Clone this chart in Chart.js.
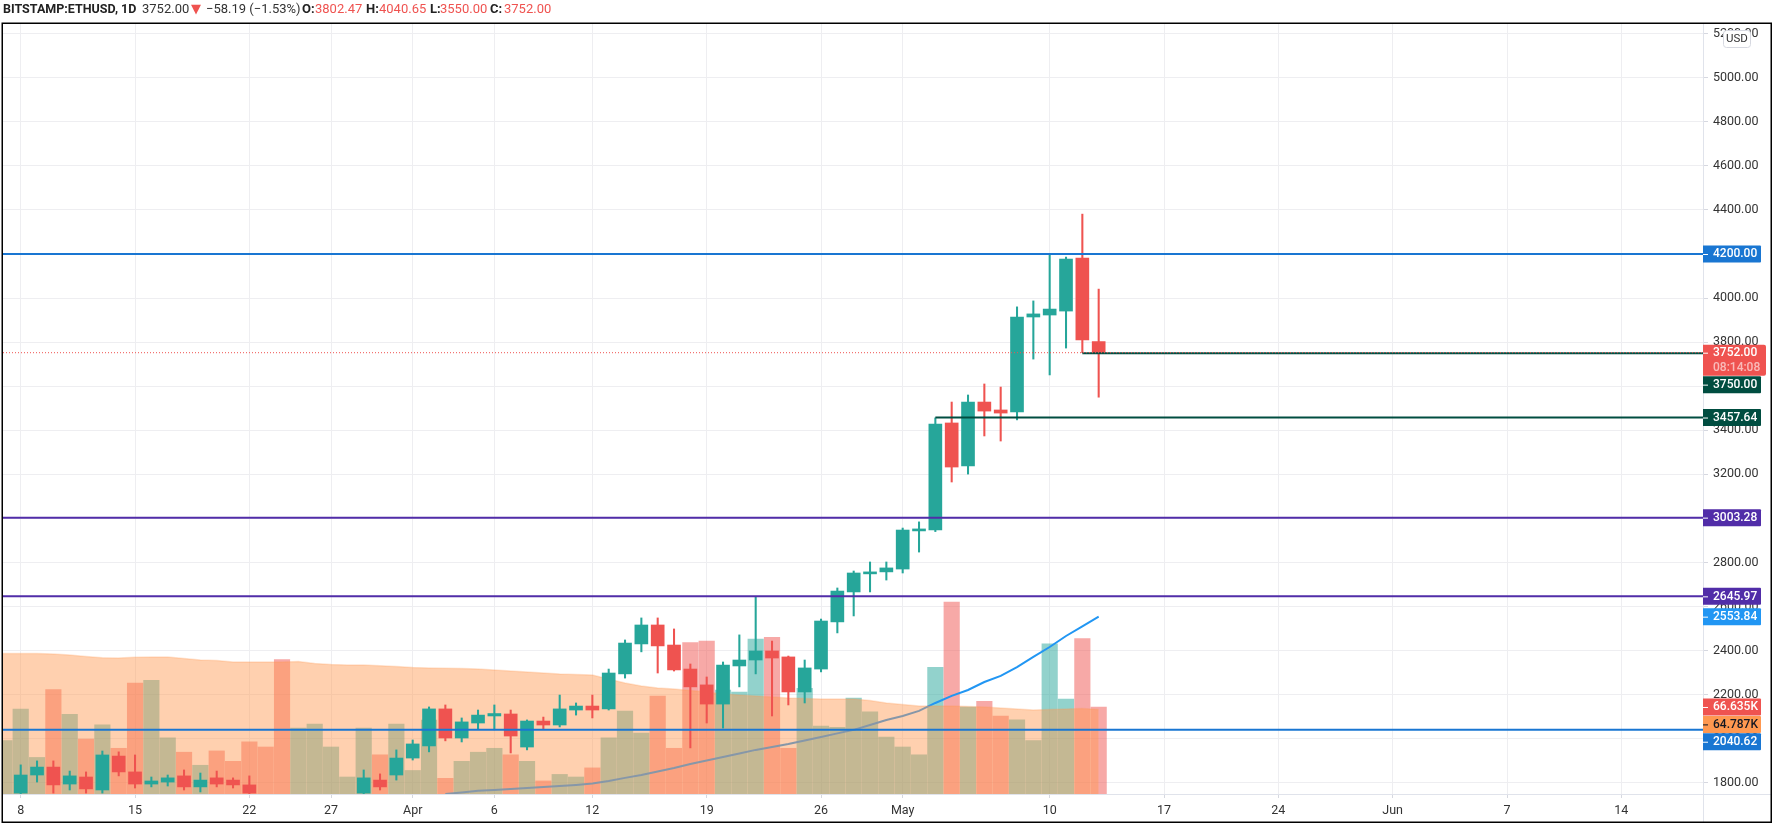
<!DOCTYPE html>
<html>
<head>
<meta charset="utf-8">
<title>BITSTAMP:ETHUSD, 1D</title>
<script src="https://cdn.jsdelivr.net/npm/chart.js@4/dist/chart.umd.min.js"></script>
<style>
    html, body { margin: 0; background: #fff; }
    #wrap { position: relative; width: 1776px; height: 833px; overflow: hidden; }
    #chart { position: absolute; left: 0; top: 0; }
    #head span { position: absolute; top: 0; font: 13px/18px Roboto, sans-serif; color: #333; white-space: nowrap; }
    #head .b { font-weight: 700; color: #222; }
    #head .t { font-size: 12.5px; }
    #head .r { color: #ef5350; }
</style>
</head>
<body>
<div id="wrap">
    <canvas id="chart" width="1776" height="833"></canvas>
    <div id="head">
        <span class="b t" style="left:3px">BITSTAMP:ETHUSD, 1D</span>
        <span style="left:142px">3752.00</span>
        <span class="r" style="left:191px;font-family:'DejaVu Sans'">&#9660;</span>
        <span style="left:206px">&minus;58.19 (&minus;1.53%)</span>
        <span class="b" style="left:302px">O:</span><span class="r" style="left:315px">3802.47</span>
        <span class="b" style="left:366px">H:</span><span class="r" style="left:379px">4040.65</span>
        <span class="b" style="left:430px">L:</span><span class="r" style="left:440px">3550.00</span>
        <span class="b" style="left:490px">C:</span><span class="r" style="left:504px">3752.00</span>
    </div>
</div>
<script>
// day = days since 8 Mar 2021; day, open, high, low, close, volume (K)
// null prices = candle sits below the visible part of the price scale
var rows = [
    [-1, null, null, null, null, 41],
    [0, 1753, 1881, 1750, 1835, 65],
    [1, 1835, 1899, 1803, 1871, 28],
    [2, 1871, 1899, 1753, 1790, 80],
    [3, 1794, 1853, 1767, 1831, 61],
    [4, 1826, 1849, 1753, 1772, 42],
    [5, 1767, 1944, 1753, 1926, 53],
    [6, 1921, 1940, 1831, 1849, 35],
    [7, 1849, 1926, 1776, 1794, 85],
    [8, 1794, 1826, 1781, 1808, 87],
    [9, 1803, 1835, 1785, 1822, 43],
    [10, 1831, 1858, 1767, 1781, 32],
    [11, 1781, 1844, 1758, 1812, 22],
    [12, 1822, 1853, 1781, 1794, 33],
    [13, 1812, 1822, 1776, 1790, 25],
    [14, 1790, 1831, 1750, 1753, 40],
    [15, null, null, null, null, 36],
    [16, null, null, null, null, 103],
    [17, null, null, null, null, 50.5],
    [18, null, null, null, null, 53.6],
    [19, null, null, null, null, 36],
    [20, null, null, null, null, 13],
    [21, 1753, 1858, 1750, 1822, 50.5],
    [22, 1812, 1840, 1767, 1781, 30],
    [23, 1835, 1949, 1812, 1912, 53.6],
    [24, 1912, 1994, 1903, 1976, 18],
    [25, 1967, 2144, 1940, 2135, 56.6],
    [26, 2135, 2153, 1990, 2003, 12],
    [27, 2003, 2094, 1985, 2076, 25],
    [28, 2071, 2130, 2044, 2107, 32],
    [29, 2103, 2153, 2040, 2114, 35],
    [30, 2112, 2130, 1935, 2012, 30],
    [31, 1962, 2085, 1949, 2080, 25],
    [32, 2080, 2098, 2044, 2062, 10],
    [33, 2062, 2198, 2053, 2135, 15],
    [34, 2130, 2162, 2107, 2148, 13],
    [35, 2148, 2198, 2094, 2130, 20],
    [36, 2135, 2316, 2130, 2298, 43],
    [37, 2294, 2448, 2275, 2434, 63.5],
    [38, 2430, 2548, 2394, 2516, 46.7],
    [39, 2516, 2548, 2298, 2421, 75],
    [40, 2425, 2498, 2307, 2312, 35],
    [41, 2316, 2339, 1958, 2235, 116],
    [42, 2244, 2280, 2071, 2157, 117],
    [43, 2157, 2348, 2048, 2334, 79.6],
    [44, 2330, 2471, 2235, 2357, 78],
    [45, 2357, 2646, 2294, 2398, 118.7],
    [46, 2398, 2443, 2103, 2366, 120],
    [47, 2371, 2375, 2153, 2212, 35],
    [48, 2212, 2357, 2162, 2321, 81],
    [49, 2316, 2543, 2303, 2534, 52],
    [50, 2530, 2684, 2480, 2670, 51],
    [51, 2666, 2761, 2557, 2752, 73.5],
    [52, 2748, 2802, 2666, 2757, 63],
    [53, 2757, 2802, 2720, 2775, 43.6],
    [54, 2770, 2956, 2752, 2947, 36],
    [55, 2943, 2984, 2847, 2952, 30],
    [56, 2947, 3456, 2940, 3428, 97],
    [57, 3433, 3528, 3165, 3233, 147],
    [58, 3238, 3560, 3201, 3528, 66.6],
    [59, 3528, 3610, 3374, 3487, 71],
    [60, 3492, 3596, 3351, 3478, 59.7],
    [61, 3483, 3960, 3447, 3914, 56.7],
    [62, 3914, 3987, 3723, 3928, 41],
    [63, 3923, 4200, 3651, 3950, 115],
    [64, 3941, 4186, 3773, 4177, 72.7],
    [65, 4182, 4381, 3752, 3810.19, 119],
    [66, 3802.47, 4040.65, 3550, 3752, 66.635]
];
var offChartDown = [15, 16]; // red volume although the candle is off scale

// volume moving average, one reading per day starting at day -2
var volMa = [107.6, 107.6, 107.6, 107.6, 107.2, 106.4, 105.3, 104.4, 104.1, 104.7, 104.9, 104.9, 103.8, 102.6, 102.2, 101.1,
    101.1, 101.1, 101.1, 101.5, 99.9, 99.2, 98.8, 98.8, 98.2, 97.6, 96.9, 96.5, 96.2, 96.1, 95.7, 95, 94.2, 93.4, 92.6, 91.9,
    91.5, 91.1, 88, 85, 82.7, 81.2, 80.4, 79.3, 78.1, 76.6, 75.8, 75, 74.3, 73.5, 73.1, 72.7, 72.7, 72.7, 71.6, 69.7, 68.5,
    67.4, 67.4, 67.4, 67, 66.6, 65.9, 65.1, 64.3, 64.7, 65.1, 65.5, 64.787];

// price moving average, starts at day 26
var priceMa = [1749, 1756, 1763, 1767, 1772, 1776, 1781, 1785, 1790, 1796, 1808, 1822, 1835, 1851, 1867, 1885, 1901, 1917,
    1933, 1949, 1962, 1976, 1992, 2008, 2024, 2040, 2062, 2085, 2103, 2126, 2162, 2194, 2221, 2257, 2285, 2325, 2371, 2416,
    2466, 2510, 2553.84];

var xMin = -1.084, xMax = 103;
var xLabels = {0: '8', 7: '15', 14: '22', 19: '27', 24: 'Apr', 29: '6', 35: '12', 42: '19', 49: '26', 54: 'May', 63: '10',
    70: '17', 77: '24', 84: 'Jun', 91: '7', 98: '14'};

var TEAL = '#26a69a', RED = '#ef5350', BLUE = '#1976d2', PURPLE = '#512da8', GREEN = '#004d40';

function hline(value, color, from, extra) {
    return Object.assign({
        type: 'line',
        data: [{x: from, y: value}, {x: xMax, y: value}],
        borderColor: color,
        borderWidth: 2,
        pointRadius: 0,
        yAxisID: 'y',
        order: 1
    }, extra || {});
}

var candles = rows.filter(function (r) { return r[1] !== null; });
var isUp = function (r) { return r[4] >= r[1]; };

var datasets = [
    {
        label: 'Volume',
        data: rows.map(function (r) { return {x: r[0], y: r[5]}; }),
        backgroundColor: rows.map(function (r) {
            var down = r[1] === null ? offChartDown.indexOf(r[0]) >= 0 : !isUp(r);
            return down ? 'rgba(239,83,80,.5)' : 'rgba(38,166,154,.5)';
        }),
        barThickness: 15.5,
        grouped: false,
        yAxisID: 'vol',
        order: 6
    },
    {
        type: 'line',
        label: 'MA',
        data: priceMa.map(function (v, i) { return {x: i + 26, y: v}; }),
        borderColor: '#2196f3',
        borderWidth: 2,
        pointRadius: 0,
        yAxisID: 'y',
        order: 5
    },
    {
        type: 'line',
        label: 'Volume MA',
        data: volMa.map(function (v, i) { return {x: i - 2, y: v}; }),
        borderColor: 'rgba(255,152,80,.25)',
        borderWidth: 1.5,
        backgroundColor: 'rgba(255,152,80,.46)',
        fill: 'origin',
        pointRadius: 0,
        yAxisID: 'vol',
        order: 4
    },
    {
        label: 'Wick',
        data: candles.map(function (r) { return {x: r[0], y: [r[3], r[2]]}; }),
        backgroundColor: candles.map(function (r) { return isUp(r) ? TEAL : RED; }),
        barThickness: 1.4,
        grouped: false,
        yAxisID: 'y',
        order: 3
    },
    {
        label: 'Body',
        data: candles.map(function (r) { return {x: r[0], y: [r[1], r[4]]}; }),
        backgroundColor: candles.map(function (r) { return isUp(r) ? TEAL : RED; }),
        barThickness: 13,
        grouped: false,
        yAxisID: 'y',
        order: 2
    },
    hline(3752, RED, xMin, {borderWidth: 1, borderDash: [1, 2]}),
    hline(4200, BLUE, xMin),
    hline(3003.28, PURPLE, xMin),
    hline(2645.97, PURPLE, xMin),
    hline(2040.62, BLUE, xMin),
    hline(3750, GREEN, 65),
    hline(3457.64, GREEN, 56)
];

// price scale labels; shift = how far the label got pushed from its real level
var pills = [
    {text: '4200.00', value: 4200, color: BLUE},
    {text: '3003.28', value: 3003.28, color: PURPLE},
    {text: '3750.00', value: 3750, color: GREEN, shift: 31.5},
    {text: '3457.64', value: 3457.64, color: GREEN},
    {text: '2645.97', value: 2645.97, color: PURPLE},
    {text: '2553.84', value: 2553.84, color: '#2196f3'},
    {text: '66.635K', value: 66.635, axis: 'vol', color: RED},
    {text: '64.787K', value: 64.787, axis: 'vol', color: '#ff9850', ink: '#131722', shift: 15},
    {text: '2040.62', value: 2040.62, color: BLUE, shift: 12}
];

var framePlugin = {
    id: 'frame',
    afterDraw: function (chart) {
        var ctx = chart.ctx, a = chart.chartArea, right = a.right, i;
        ctx.save();
        // pane separators
        ctx.fillStyle = '#e0e3eb';
        ctx.fillRect(right, 24, 1, 798);
        ctx.fillRect(a.left, a.bottom, 1771 - a.left, 1);

        ctx.font = '500 12px Roboto';
        ctx.textBaseline = 'middle';
        ctx.textAlign = 'left';
        for (i = 0; i < pills.length; i++) {
            var p = pills[i];
            var y = chart.scales[p.axis || 'y'].getPixelForValue(p.value) + (p.shift || 0);
            ctx.fillStyle = p.color;
            ctx.beginPath();
            ctx.roundRect(right, y - 8.5, 58, 17, [0, 1, 1, 0]);
            ctx.fill();
            ctx.fillStyle = p.ink || '#fff';
            ctx.fillRect(right, y, 5, 1);
            ctx.fillText(p.text, right + 10, y + 0.5);
        }

        // last price label with countdown
        var yp = chart.scales.y.getPixelForValue(3752);
        ctx.fillStyle = RED;
        ctx.beginPath();
        ctx.roundRect(right, yp - 8, 63, 31, [0, 2, 2, 0]);
        ctx.fill();
        ctx.fillStyle = '#fff';
        ctx.fillRect(right, yp, 5, 1);
        ctx.fillText('3752.00', right + 10, yp + 0.5);
        ctx.fillStyle = 'rgba(255,255,255,.6)';
        ctx.fillText('08:14:08', right + 10, yp + 15);

        // currency box
        ctx.fillStyle = '#fff';
        ctx.strokeStyle = '#d6d8e0';
        ctx.beginPath();
        ctx.roundRect(1723.5, 30.5, 27, 17, 3);
        ctx.fill();
        ctx.stroke();
        ctx.fillStyle = '#333';
        ctx.font = '11.5px Roboto';
        ctx.textAlign = 'center';
        ctx.fillText('USD', 1737, 39.5);

        // outer frame
        ctx.strokeStyle = '#000';
        ctx.lineWidth = 1.5;
        ctx.strokeRect(2.25, 23.25, 1769, 799);
        ctx.restore();
    }
};

new Chart(document.getElementById('chart'), {
    type: 'bar',
    data: {datasets: datasets},
    plugins: [framePlugin],
    options: {
        responsive: false,
        animation: false,
        layout: {padding: {left: 3, top: 24, right: 0, bottom: 11}},
        plugins: {legend: {display: false}, tooltip: {enabled: false}, title: {display: false}},
        scales: {
            x: {
                type: 'linear',
                offset: false,
                min: xMin,
                max: xMax,
                border: {display: false},
                grid: {offset: false, color: '#eeeef1', tickColor: '#d6d8e0', tickLength: 4},
                afterBuildTicks: function (scale) {
                    scale.ticks = Object.keys(xLabels).map(function (k) { return {value: +k}; });
                },
                afterFit: function (scale) { scale.height = 28; },
                ticks: {
                    autoSkip: false,
                    maxRotation: 0,
                    padding: 5,
                    color: '#333',
                    font: {family: 'Roboto', size: 12.5},
                    callback: function (v) { return xLabels[v]; }
                }
            },
            y: {
                position: 'right',
                min: 1748.8,
                max: 5244,
                border: {display: false},
                grid: {color: '#eeeef1', tickColor: '#d6d8e0', tickLength: 5},
                afterFit: function (scale) { scale.width = 73; },
                ticks: {
                    stepSize: 200,
                    includeBounds: false,
                    padding: 5,
                    color: '#333',
                    font: {family: 'Roboto', size: 12.5},
                    callback: function (v) { return v.toFixed(2); }
                }
            },
            vol: {display: false, min: 0, max: 589.6}
        }
    }
});
</script>
</body>
</html>
